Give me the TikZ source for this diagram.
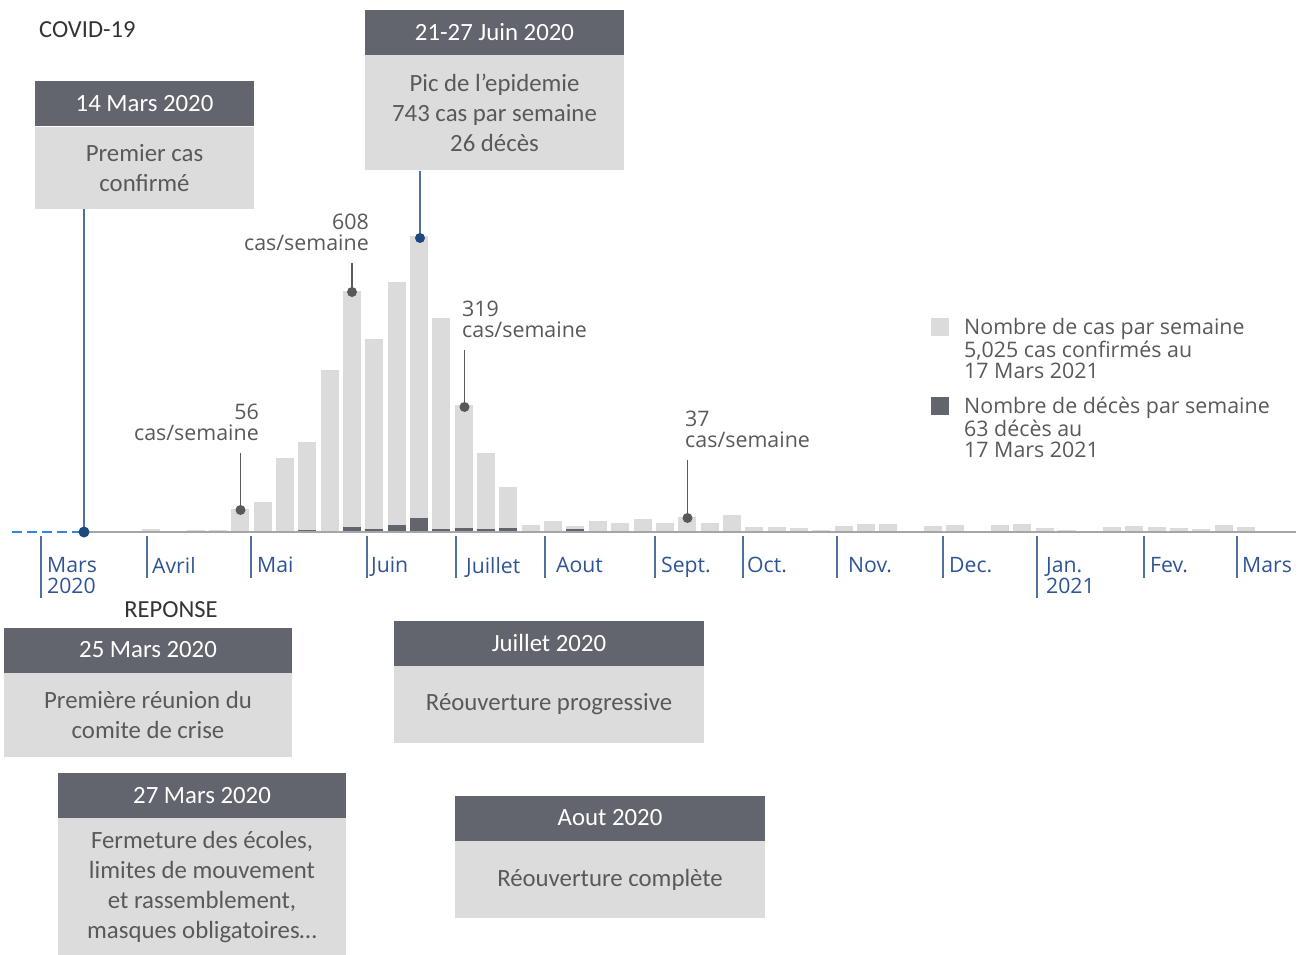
\documentclass[tikz,border=0pt]{standalone}
\usepackage{fontspec}
\setmainfont{Carlito}
\newfontfamily\segoe{Open Sans}
\usetikzlibrary{positioning}

\definecolor{hdrgray}{HTML}{62656E}
\definecolor{boxgray}{HTML}{DCDCDC}
\definecolor{bargray}{HTML}{DBDBDB}
\definecolor{txtgray}{HTML}{595959}
\definecolor{darknavy}{HTML}{1F497D}
\definecolor{linkblue}{HTML}{4F6F9C}
\definecolor{monthblue}{HTML}{2F5496}
\definecolor{dashblue}{HTML}{2E86DE}
\definecolor{axisgray}{HTML}{A6A6A6}

\tikzset{
  hdr/.style={fill=hdrgray, text=white, font=\fontsize{24.8}{30}\selectfont, minimum height=45pt, inner sep=0pt},
  bdy/.style={fill=boxgray, text=txtgray, font=\fontsize{24.8}{30}\selectfont, align=center, inner sep=0pt},
  heading/.style={text=black!80, font=\fontsize{24.5}{28}\selectfont, inner sep=0pt},
  note/.style={text=txtgray, font=\segoe\fontsize{21.4}{21}\selectfont, inner sep=0pt},
  month/.style={text=monthblue, font=\segoe\fontsize{21.2}{21}\selectfont, align=left, anchor=north west, inner sep=0pt},
  leader/.style={draw=txtgray, line width=1.5pt},
  link/.style={draw=linkblue, line width=1.5pt},
  tickline/.style={draw=linkblue, line width=1.5pt},
}

\begin{document}
\begin{tikzpicture}[x=1pt, y=-1pt]
\useasboundingbox (0,0) rectangle (1304,955);

\node[heading, anchor=west] (covid) at (39,30) {COVID-19};

% boxes above the chart
\node[hdr, minimum width=219pt] (mars14h) at (144.5,104) {14 Mars 2020};
\node[bdy, minimum width=219pt, minimum height=82pt, below=0pt of mars14h] (mars14) {Premier cas\\confirmé};
\node[hdr, minimum width=259pt] (pich) at (494.5,32.5) {21-27 Juin 2020};
\node[bdy, minimum width=259pt, minimum height=115pt, below=0pt of pich] (pic) {Pic de l’epidemie\\743 cas par semaine\\26 décès};

% weekly cases, then deaths
\foreach \h [count=\i from 0] in {2,0,1,1,22,29,73,89,161,240,192,249,295,213,126,78,44,6.5,10,5,10,8,12,8,14.5,8,16,4,4,3,1,5,7,6.6,0,4.7,6,0,5.7,7.3,3.3,1.5,0,3.7,4.7,3.7,2.7,2,6,3.7}
  \fill[bargray] ({141.8+22.35*\i},531) rectangle ++(18,-\h);
\foreach \i/\h in {7/1,9/4,10/2,11/6.5,12/13,13/2,14/3,15/2,16/3,19/2.5}
  \fill[hdrgray] ({141.8+22.35*\i},531) rectangle ++(18,-\h);

% axis
\coordinate (axstart) at (12,532);
\coordinate (first) at (84,532);
\coordinate (axend) at (1296,532);
\coordinate (peak) at (420,238);
\draw[axisgray, line width=2pt] (first) -- (axend);
\draw[dashblue, line width=1.5pt, dash pattern=on 10pt off 5pt] (axstart) -- (first);

\foreach \x/\b/\lx/\m in {41/598/47/{Mars\\2020},147/578/152/Avril,251/578/257/Mai,367/578/371/Juin,456/578/466/Juillet,545/578/556/Aout,655/578/661/Sept.,743/578/747/Oct.,837/578/848/Nov.,943/578/949/Dec.,1037/598/1046/{Jan.\\2021},1144/578/1150/Fev.,1237/578/1242/Mars} {
  \draw[tickline] (\x,536) -- (\x,\b);
  \node[month] (m\x) at (\lx,557) {\m};
}

% weekly counts
\coordinate (d56) at (240.5,510);
\coordinate (d608) at (352,292);
\coordinate (d319) at (464.5,407);
\coordinate (d37) at (687.5,518);
\node[note, align=right, anchor=north east] (a56) at (259,404) {56\\cas/semaine};
\node[note, align=right, anchor=north east] (a608) at (369,214) {608\\cas/semaine};
\node[note, align=left, anchor=north west] (a319) at (462,301) {319\\cas/semaine};
\node[note, align=left, anchor=north west] (a37) at (685,411) {37\\cas/semaine};
\foreach \n in {56,608,319,37} {
  \draw[leader, shorten <=12pt] (a\n.south -| d\n) -- (d\n);
  \fill[txtgray] (d\n) circle (5pt);
}

\draw[link] (mars14.south -| first) -- (first);
\fill[darknavy] (first) circle (5.5pt);
\draw[link] (pic.south -| peak) -- (peak);
\fill[darknavy] (peak) circle (5pt);

% legend
\fill[bargray] (931,318) rectangle (949,336);
\fill[hdrgray] (931,397) rectangle (949,415);
\node[note, align=left, anchor=north west] (legcas) at (964,318.5) {Nombre de cas par semaine\\5,025 cas confirmés au\\17 Mars 2021};
\node[note, align=left, anchor=north west] (legdc) at (964,397) {Nombre de décès par semaine\\63 décès au\\17 Mars 2021};

% response boxes
\node[heading] (reponse) at (171,610) {REPONSE};
\node[hdr, minimum width=288pt] (mars25h) at (148,650) {25 Mars 2020};
\node[bdy, minimum width=288pt, minimum height=84pt, below=0pt of mars25h] (mars25) {Première réunion du\\comite de crise};
\node[hdr, minimum width=288pt] (mars27h) at (202,795.5) {27 Mars 2020};
\node[bdy, minimum width=288pt, minimum height=137pt, below=0pt of mars27h] (mars27) {Fermeture des écoles,\\limites de mouvement\\et rassemblement,\\masques obligatoires…};
\node[hdr, minimum width=310pt] (julh) at (549,643) {Juillet 2020};
\node[bdy, minimum width=310pt, minimum height=77pt, below=0pt of julh] (jul) {Réouverture progressive};
\node[hdr, minimum width=310pt] (aouh) at (610,818) {Aout 2020};
\node[bdy, minimum width=310pt, minimum height=77pt, below=0pt of aouh] (aou) {Réouverture complète};
\end{tikzpicture}
\end{document}
